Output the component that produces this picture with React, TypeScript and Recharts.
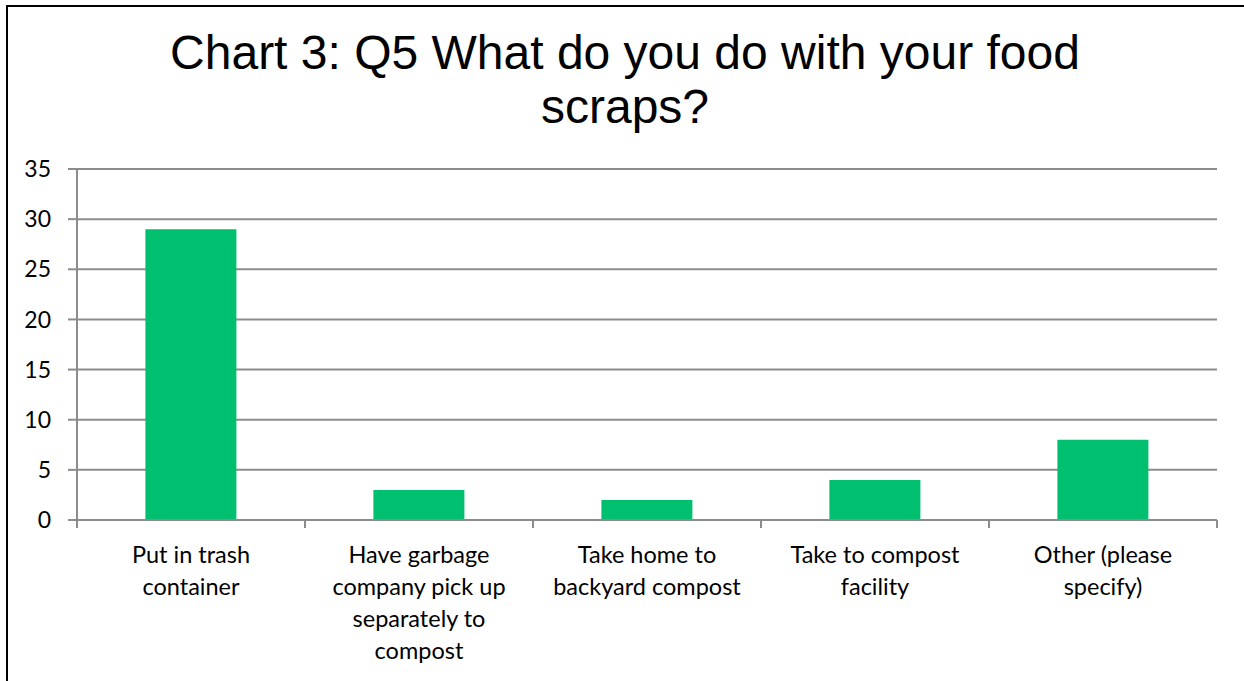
import { BarChart, Bar, XAxis, YAxis, CartesianGrid } from "recharts";

const titleLines = ["Chart 3: Q5 What do you do with your food", "scraps?"];

const categories = [
  "Put in trash\ncontainer",
  "Have garbage\ncompany pick up\nseparately to\ncompost",
  "Take home to\nbackyard compost",
  "Take to compost\nfacility",
  "Other (please\nspecify)",
];

const responses = [29, 3, 2, 4, 8];

const yTicks = [0, 5, 10, 15, 20, 25, 30, 35];

const data = categories.map((name, i) => ({ name, value: responses[i] }));

const GRID = "#8c8c8c";
const FONT = "Lato, 'Open Sans', sans-serif";

function CategoryTick(props: any) {
  const { x, y, payload, index } = props;
  const half = payload?.offset ?? 0;
  const lines = String(payload.value).split("\n");
  const last = index === categories.length - 1;
  return (
    <g>
      <line x1={x - half} x2={x - half} y1={y} y2={y + 8} stroke={GRID} strokeWidth={2} />
      {last && (
        <line x1={x + half} x2={x + half} y1={y} y2={y + 8} stroke={GRID} strokeWidth={2} />
      )}
      <text
        x={x}
        y={y}
        textAnchor="middle"
        fontFamily={FONT}
        fontSize={23.5}
        fill="#000"
      >
        {lines.map((line, i) => (
          <tspan key={i} x={x} y={y + 43 + i * 32}>
            {line}
          </tspan>
        ))}
      </text>
    </g>
  );
}

export default function App() {
  return (
    <div
      style={{
        position: "absolute",
        left: 0,
        top: 0,
        width: 1244,
        height: 681,
        overflow: "hidden",
        background: "#fff",
      }}
    >
      {/* outer frame, runs off the right and bottom edges */}
      <div
        style={{
          position: "absolute",
          left: 6,
          top: 5,
          width: 1300,
          height: 800,
          border: "2px solid #000",
        }}
      />

      {/* Title */}
      <div
        style={{
          position: "absolute",
          left: 125,
          top: 26,
          width: 1000,
          textAlign: "center",
          fontFamily: "'Liberation Sans', Arial, sans-serif",
          fontSize: 48,
          lineHeight: "54px",
          color: "#000",
        }}
      >
        {titleLines[0]}
        <br />
        {titleLines[1]}
      </div>

      <div style={{ position: "absolute", left: 0, top: 0 }}>
        <BarChart
          width={1244}
          height={681}
          data={data}
          margin={{ top: 169, right: 27, left: 7, bottom: 0 }}
          barCategoryGap="30%"
        >
          <CartesianGrid vertical={false} stroke={GRID} strokeWidth={2} />
          <XAxis
            dataKey="name"
            height={161}
            axisLine={{ stroke: GRID, strokeWidth: 2 }}
            tickLine={false}
            tickSize={0}
            tickMargin={0}
            interval={0}
            tick={<CategoryTick />}
          />
          <YAxis
            width={70}
            domain={[0, 35]}
            ticks={yTicks}
            interval={0}
            axisLine={{ stroke: GRID, strokeWidth: 2 }}
            tickLine={{ stroke: GRID, strokeWidth: 2 }}
            tickSize={9}
            tickMargin={17}
            tick={{ fontFamily: FONT, fontSize: 23, fill: "#000" }}
          />
          <Bar dataKey="value" fill="#00BF6F" isAnimationActive={false} />
        </BarChart>
      </div>
    </div>
  );
}
